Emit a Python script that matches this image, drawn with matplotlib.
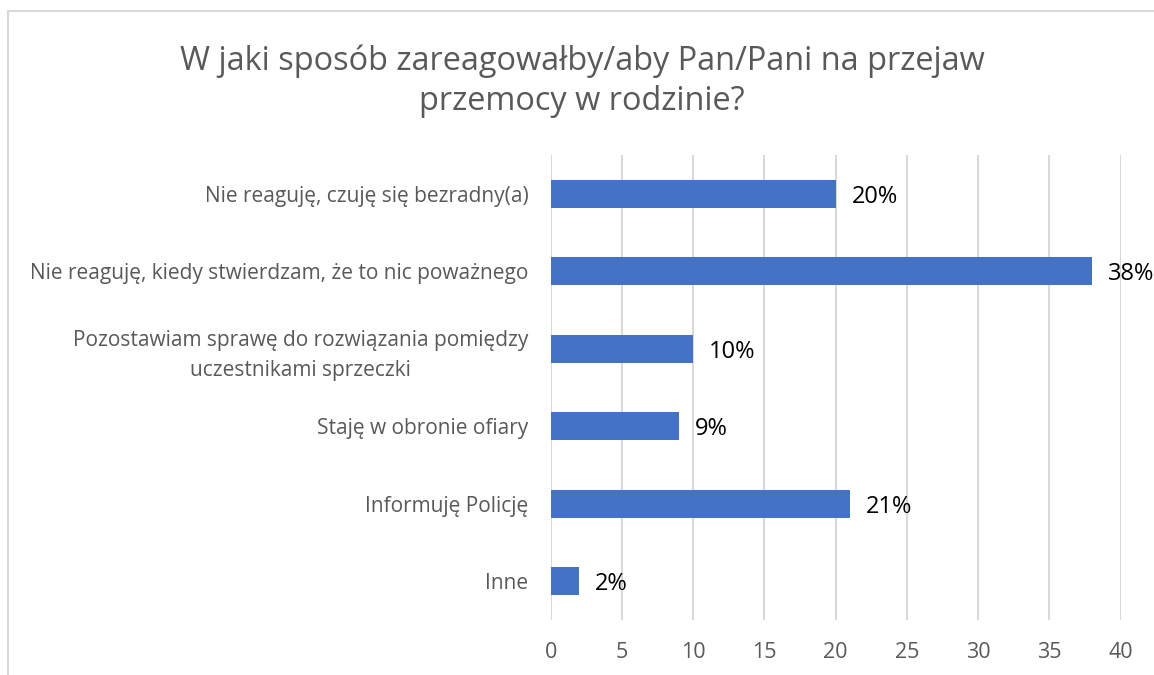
import matplotlib
matplotlib.use("Agg")
import matplotlib.pyplot as plt
from matplotlib.patches import Rectangle

plt.rcParams['font.family'] = ['Open Sans', 'DejaVu Sans']

categories = [
    "Nie reaguję, czuję się bezradny(a)",
    "Nie reaguję, kiedy stwierdzam, że to nic poważnego",
    "Pozostawiam sprawę do rozwiązania pomiędzy\nuczestnikami sprzeczki",
    "Staję w obronie ofiary",
    "Informuję Policję",
    "Inne",
]
values = [20, 38, 10, 9, 21, 2]
value_labels = ["20%", "38%", "10%", "9%", "21%", "2%"]
x_ticks = [0, 5, 10, 15, 20, 25, 30, 35, 40]

W, H = 1154, 675
fig = plt.figure(figsize=(W / 100, H / 100), dpi=100)
ax = fig.add_axes([550.6 / W, 1 - 620 / H, (1120.5 - 550.6) / W, (620 - 155) / H])

# frame of the chart area (cut off on the right and bottom)
fig.patches.append(Rectangle((8 / W, -0.1), 1.2, 1 - 11 / H + 0.1, transform=fig.transFigure,
                             fill=False, edgecolor='#d9d9d9', linewidth=1.5))

y = list(range(len(categories)))
ax.barh(y, values, height=0.36, color='#4472C4')
for yi, v, lab in zip(y, values, value_labels):
    ax.annotate(lab, (v, yi), xytext=(11.5, -2), textcoords='offset points',
                va='center', ha='left', fontsize=17, color='black')

ax.set_ylim(5.5, -0.5)
ax.set_xlim(0, 40)
ax.set_xticks(x_ticks)
ax.set_yticks(y)
ax.set_yticklabels(categories, multialignment='center', linespacing=1.55)
ax.tick_params(axis='y', length=0, pad=16, labelsize=15, labelcolor='#595959')
ax.tick_params(axis='x', length=0, pad=16, labelsize=15.5, labelcolor='#595959')
ax.grid(axis='x', color='#d9d9d9', linewidth=1.5)
ax.set_axisbelow(True)
for s in ax.spines.values():
    s.set_visible(False)

fig.text(582 / W, 1 - 81 / H, "W jaki sposób zareagowałby/aby Pan/Pani na przejaw\nprzemocy w rodzinie?",
         ha='center', va='center', fontsize=23.4, color='#595959', linespacing=1.26)

fig.savefig('out.png', dpi=100)
